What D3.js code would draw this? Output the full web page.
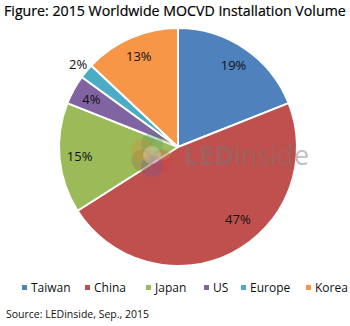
<!DOCTYPE html>
<html>
<head>
<meta charset="utf-8">
<script src="https://cdn.jsdelivr.net/npm/d3@7/dist/d3.min.js"></script>
<style>
  html, body { margin: 0; padding: 0; background: #fff; }
  svg { display: block; }
</style>
</head>
<body>
<svg id="chart" width="350" height="326"></svg>
<script>
// Installation share by region, percent
const regions = ["Taiwan", "China", "Japan", "US", "Europe", "Korea"];
const shares = [19, 47, 15, 4, 2, 13];
const colors = ["#4F81BD", "#C0504D", "#9BBB59", "#8064A2", "#4BACC6", "#F79646"];

const W = 350, H = 326;
const cx = 178, cy = 147, R = 119;
const font = "'Open Sans', 'Noto Sans', sans-serif";

const svg = d3.select("#chart");

svg.append("text")
  .attr("x", 4).attr("y", 16)
  .attr("font-family", font).attr("font-size", 14.2)
  .attr("fill", "#000")
  .attr("stroke", "#000").attr("stroke-width", 0.2)
  .text("Figure: 2015 Worldwide MOCVD Installation Volume");

const data = regions.map((r, i) => ({ region: r, value: shares[i], color: colors[i] }));
const pie = d3.pie().sort(null).value(d => d.value);
const arcs = pie(data);
const arc = d3.arc().innerRadius(0).outerRadius(R);

const g = svg.append("g").attr("transform", `translate(${cx},${cy})`);
g.selectAll("path.slice").data(arcs).join("path")
  .attr("class", "slice")
  .attr("d", arc)
  .attr("fill", d => d.data.color)
  .attr("stroke", "#fff").attr("stroke-width", 2).attr("stroke-linejoin", "round");

// Watermark: petal logo and wordmark
const wm = svg.append("g").attr("transform", `translate(${cx - 26},${cy + 8})`);
const petalColors = ["#3F8F5A", "#9CC06A", "#D04040", "#6A5AA0", "#A0603A", "#E08A40"];
petalColors.forEach((c, i) => {
  const a = i / petalColors.length * 2 * Math.PI - Math.PI / 2;
  wm.append("circle")
    .attr("cx", Math.cos(a) * 11).attr("cy", Math.sin(a) * 11)
    .attr("r", 11).attr("fill", c).attr("opacity", 0.3);
});
wm.append("circle").attr("r", 9).attr("fill", "#fff").attr("opacity", 0.25);
const word = svg.append("text")
  .attr("x", cx + 6).attr("y", cy + 18)
  .attr("font-family", "'Open Sans', sans-serif").attr("font-size", 27)
  .attr("fill", "#777").attr("opacity", 0.45);
word.append("tspan").attr("font-weight", "bold").text("LED");
word.append("tspan").attr("font-weight", "normal").text("inside");

// Percent labels: inside the slice, or outside when the slice is thin
const labelShift = { China: [15, -16] };
const inner = d3.arc().innerRadius(R * 0.83).outerRadius(R * 0.83);
const outer = d3.arc().innerRadius(R * 1.09).outerRadius(R * 1.09);
g.selectAll("text.pct").data(arcs).join("text")
  .attr("class", "pct")
  .attr("transform", d => {
    const p = (d.data.value < 3 ? outer : inner).centroid(d);
    const s = labelShift[d.data.region] || [0, 0];
    return `translate(${p[0] + s[0]},${p[1] + s[1]})`;
  })
  .attr("text-anchor", "middle").attr("dy", "0.35em")
  .attr("font-family", font).attr("font-size", 13)
  .attr("fill", "#111")
  .text(d => d.data.value + "%");

// Legend
const legendX = [22, 85, 146, 204, 241, 306];
const lg = svg.append("g").attr("transform", "translate(0,288)");
data.forEach((d, i) => {
  const item = lg.append("g").attr("transform", `translate(${legendX[i]},0)`);
  item.append("rect").attr("x", 0).attr("y", -3).attr("width", 5).attr("height", 5).attr("fill", d.color);
  item.append("text").attr("x", 9).attr("y", 0).attr("dy", "0.35em")
    .attr("font-family", font).attr("font-size", 12).attr("fill", "#111")
    .text(d.region);
});

svg.append("text")
  .attr("x", 6).attr("y", 318)
  .attr("font-family", font).attr("font-size", 10.5)
  .attr("fill", "#111")
  .text("Source: LEDinside, Sep., 2015");
</script>
</body>
</html>
